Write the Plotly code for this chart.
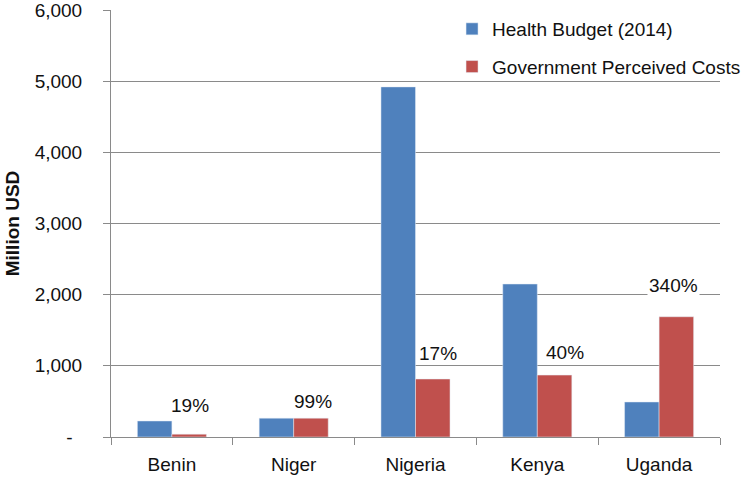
import plotly.graph_objects as go

# ---- data ----
countries = ["Benin", "Niger", "Nigeria", "Kenya", "Uganda"]
health_budget = [225, 265, 4920, 2150, 492]
perceived_costs = [40, 265, 815, 870, 1690]
pct_labels = ["19%", "99%", "17%", "40%", "340%"]
y_tickvals = [0, 1000, 2000, 3000, 4000, 5000, 6000]
y_ticktext = ["-\u2002", "1,000", "2,000", "3,000", "4,000", "5,000", "6,000"]

# ---- style ----
BLUE = "#4F81BD"
RED = "#C0504D"
GRID = "#8a8a8a"
FONT = "Liberation Sans, Arial, sans-serif"
label_xshift = [18, 19, 22, 28, 14]   # px offsets of percentage labels
label_yshift = [29, 17, 26, 23, 31]

fig = go.Figure()
fig.add_trace(go.Bar(x=countries, y=health_budget, name="Health Budget (2014)",
                     marker_color=BLUE, legendgroup="a"))
fig.add_trace(go.Bar(x=countries, y=perceived_costs, name="Government Perceived Costs",
                     marker_color=RED, legendgroup="b"))

for i, (c, v, t) in enumerate(zip(countries, perceived_costs, pct_labels)):
    fig.add_annotation(x=c, y=v, text=t, showarrow=False, xref="x", yref="y",
                       xshift=label_xshift[i], yshift=label_yshift[i],
                       font=dict(family=FONT, size=19, color="#111"),
                       bgcolor="white" if i == 4 else "rgba(0,0,0,0)")

fig.update_layout(
    width=750, height=480,
    margin=dict(l=111, r=30, t=10, b=43, autoexpand=False),
    paper_bgcolor="white", plot_bgcolor="white",
    barmode="group", bargap=0.433, bargroupgap=0,
    font=dict(family=FONT, size=19, color="#111"),
    showlegend=True,
    legend=dict(x=0.56, y=1.0, xanchor="left", yanchor="top",
                bgcolor="rgba(0,0,0,0)", font=dict(size=19, color="#111"),
                traceorder="grouped", tracegroupgap=10, itemclick=False),
)
fig.update_xaxes(showline=True, linecolor=GRID, linewidth=1, automargin=False,
                 ticks="outside", tickson="boundaries", ticklen=7, tickcolor=GRID,
                 ticklabelstandoff=10,
                 showgrid=False, tickfont=dict(size=19, color="#111"))
fig.update_yaxes(range=[0, 6000.5], tickvals=y_tickvals, ticktext=y_ticktext,
                 showline=True, linecolor=GRID, linewidth=1, automargin=False,
                 ticks="outside", ticklen=7, tickcolor=GRID,
                 showgrid=True, gridcolor=GRID, gridwidth=1, zeroline=False,
                 ticklabelstandoff=17, ticklabeloverflow="allow",
                 tickfont=dict(size=19, color="#111"),
                 title=dict(text="<b>Million USD</b>", standoff=10,
                            font=dict(size=19, color="#111")))

fig.write_html("out.html", config={"displayModeBar": False},
               post_script="document.body.style.margin='0';document.body.style.overflow='hidden';")
